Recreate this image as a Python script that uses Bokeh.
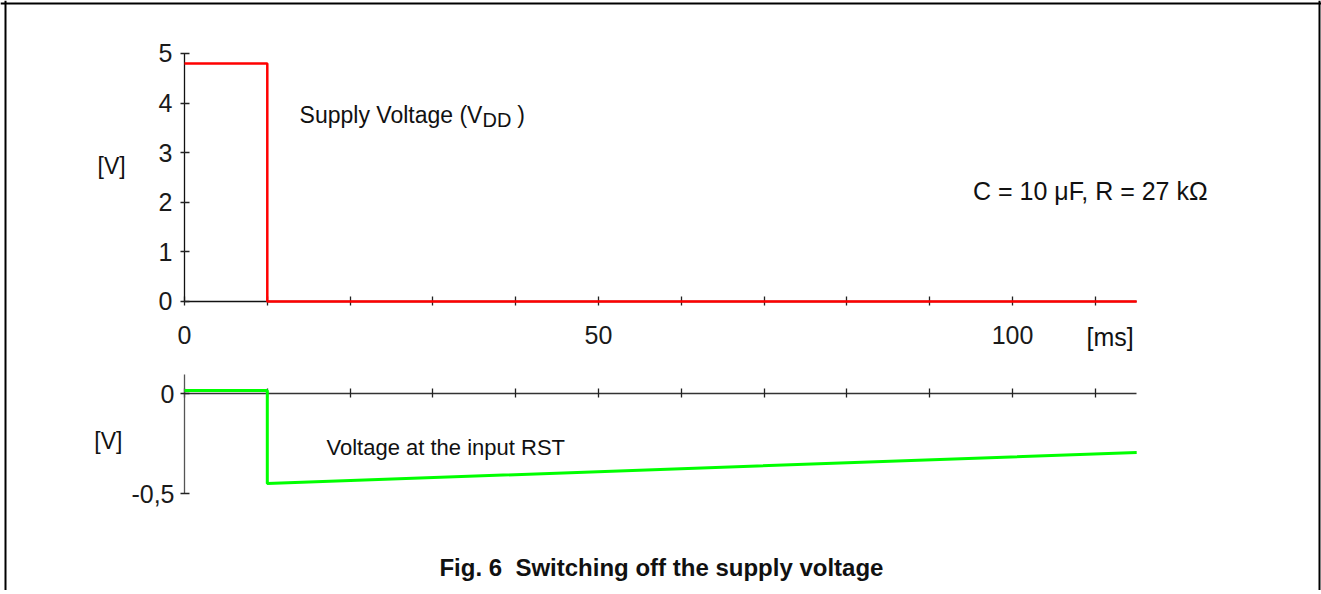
from bokeh.plotting import figure
from bokeh.models import Range1d, FixedTicker, Label, LinearAxis, Span
from bokeh.embed import file_html
from bokeh.resources import INLINE

# ---- data ----
time_vdd = [0, 10, 10, 115]            # ms
vdd = [4.8, 4.8, 0.0, 0.0]             # V
time_rst = [0, 10, 10, 115]            # ms
v_rst = [0.015, 0.015, -0.45, -0.295]  # V

x_ticks = [0, 10, 20, 30, 40, 50, 60, 70, 80, 90, 100, 110]
x_tick_labels = ["0", "", "", "", "", "50", "", "", "", "", "100", ""]
vdd_ticks = [0, 1, 2, 3, 4, 5]
rst_ticks = [-0.5, 0]
rst_tick_labels = ["-0,5", "0"]

FONT = "Liberation Sans"

# One canvas holds both panels; the two panels use separate y ranges.
p = figure(width=1321, height=590,
           x_range=Range1d(-22.222, 137.319), y_range=Range1d(-5.8266, 6.0685),
           min_border=0, output_backend="svg", toolbar_location=None)
p.extra_y_ranges = {"rst": Range1d(-0.985, 1.965)}
p.grid.visible = False
p.outline_line_color = None
p.background_fill_color = "white"
p.border_fill_color = "white"


def style_axis(ax, line_color):
    ax.axis_line_color = line_color
    ax.axis_line_width = 1.3
    ax.major_tick_line_color = "#222222"
    ax.major_tick_line_width = 1.3
    ax.major_tick_in = 5
    ax.major_tick_out = 4
    ax.minor_tick_line_color = None
    ax.major_label_text_font = FONT
    ax.major_label_text_font_size = "25px"
    ax.major_label_text_color = "#1a1a1a"


# top panel axes
xa1 = p.xaxis[0]
style_axis(xa1, "#111111")
xa1.ticker = FixedTicker(ticks=x_ticks)
xa1.major_label_overrides = {t: s for t, s in zip(x_ticks, x_tick_labels)}
xa1.fixed_location = 0
xa1.bounds = (0, 115)
xa1.major_label_standoff = 21

ya1 = p.yaxis[0]
style_axis(ya1, "#111111")
ya1.ticker = FixedTicker(ticks=vdd_ticks)
ya1.fixed_location = 0
ya1.bounds = (0, 5)
ya1.major_label_standoff = 8

# bottom panel axes
xa2 = LinearAxis(y_range_name="rst")
style_axis(xa2, "#333333")
xa2.ticker = FixedTicker(ticks=x_ticks)
xa2.major_label_text_font_size = "0px"
xa2.fixed_location = 0
xa2.bounds = (0, 115)
p.add_layout(xa2, "below")

ya2 = LinearAxis(y_range_name="rst")
style_axis(ya2, "#555555")
ya2.ticker = FixedTicker(ticks=rst_ticks)
ya2.major_label_overrides = {t: s for t, s in zip(rst_ticks, rst_tick_labels)}
ya2.fixed_location = 0
ya2.bounds = (-0.5, 0.095)
ya2.major_label_standoff = 6
p.add_layout(ya2, "left")

# curves
p.line(time_vdd, vdd, line_color="#ff0000", line_width=2.5, level="overlay")
p.line(time_rst, v_rst, line_color="#00ff00", line_width=3, level="overlay",
       y_range_name="rst")


def lab(x, y, text, size="22px", align="left", baseline="alphabetic",
        style="normal", rng="default"):
    p.add_layout(Label(x=x, y=y, text=text, text_font=FONT, text_font_size=size,
                       text_align=align, text_baseline=baseline,
                       text_font_style=style, text_color="#111111",
                       y_range_name=rng))


lab(-8.8, 2.74, "[V]", size="23px", align="center", baseline="middle")
lab(13.9, 3.77, "Supply Voltage (V", size="23px")
lab(36.0, 3.66, "DD", size="20px")
lab(40.2, 3.77, ")", size="23px")
lab(109.4, 2.22, "C = 10 \u03bcF, R = 27 k\u03a9", size="25px", align="center")
lab(111.8, -0.706, "[ms]", size="25px", align="center", baseline="middle")

lab(-9.2, -0.235, "[V]", size="23px", align="center", baseline="middle", rng="rst")
lab(17.15, -0.27, "Voltage at the input RST", size="22px", rng="rst")
lab(57.6, -0.87, "Fig. 6\u00a0 Switching off the supply voltage", size="24px",
    align="center", style="bold", rng="rst")

# page frame (left, right, top)
p.add_layout(Span(location=-21.618, dimension="height", line_color="black", line_width=2))
p.add_layout(Span(location=137.077, dimension="height", line_color="black", line_width=2))
p.add_layout(Span(location=6.008, dimension="width", line_color="black", line_width=2))

open("out.html", "w").write(file_html(p, INLINE))
